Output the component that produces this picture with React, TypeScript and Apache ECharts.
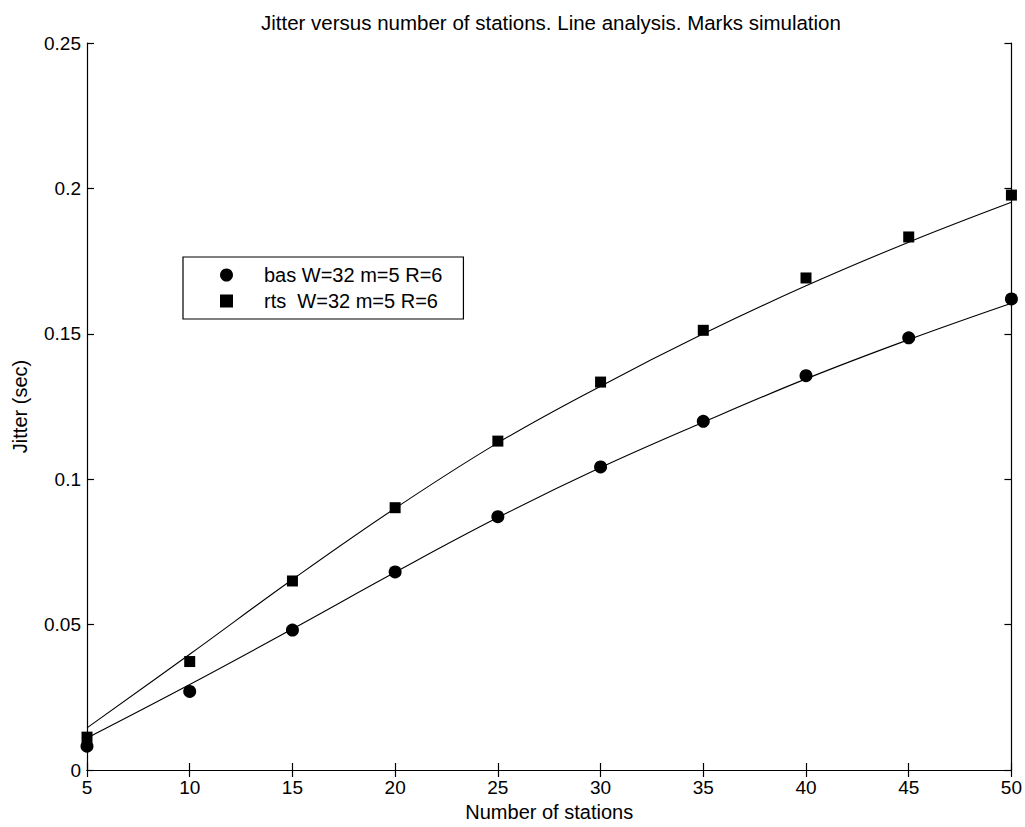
import React, { useEffect, useRef } from "react";
import * as echarts from "echarts";

const stations = [5, 10, 15, 20, 25, 30, 35, 40, 45, 50];
const xTicks = [5, 10, 15, 20, 25, 30, 35, 40, 45, 50];
const yTicks = [0, 0.05, 0.1, 0.15, 0.2, 0.25];

// Analysis (lines)
const basAnalysis = [0.011, 0.0294, 0.0485, 0.068, 0.0868, 0.104, 0.1196, 0.1345, 0.148, 0.1605];
const rtsAnalysis = [0.0145, 0.0398, 0.0655, 0.09, 0.1125, 0.132, 0.15, 0.1665, 0.1815, 0.1952];

// Simulation (marks)
const basSimulation = [0.0082, 0.027, 0.0481, 0.0681, 0.0871, 0.1042, 0.1199, 0.1356, 0.1486, 0.162];
const rtsSimulation = [0.0113, 0.0373, 0.065, 0.0902, 0.1131, 0.1334, 0.1512, 0.1692, 0.1833, 0.1977];

const basName = "bas W=32 m=5 R=6";
const rtsName = "rts  W=32 m=5 R=6";
const titleText = "Jitter versus number of stations. Line analysis. Marks simulation";
const xName = "Number of stations";
const yName = "Jitter (sec)";

const FONT = "'Liberation Sans', Arial, Helvetica, sans-serif";

function pairs(xs: number[], ys: number[]) {
  return xs.map((x, i) => [x, ys[i]]);
}

export default function App() {
  const ref = useRef<HTMLDivElement>(null);
  useEffect(() => {
    if (!ref.current) return;
    const chart = echarts.init(ref.current, undefined, { renderer: "svg" });
    const axisCommon = {
      axisLine: { show: true, lineStyle: { color: "#000", width: 1.2 } },
      axisTick: { show: true, inside: true, length: 7, lineStyle: { color: "#000", width: 1.2 } },
      splitLine: { show: false },
    };
    chart.setOption({
      animation: false,
      backgroundColor: "#fff",
      textStyle: { fontFamily: FONT, color: "#000" },
      title: {
        text: titleText,
        left: 256,
        top: 7,
        textStyle: { fontSize: 20.5, fontWeight: "normal", color: "#000", fontFamily: FONT },
      },
      grid: { left: 87, top: 43, right: 13, bottom: 53, containLabel: false },
      legend: {
        data: [
          { name: basName, icon: "circle", itemStyle: { color: "#000", opacity: 1 } },
          { name: rtsName, icon: "rect", itemStyle: { color: "#000", opacity: 1 } },
        ],
        orient: "vertical",
        left: 183,
        top: 257,
        padding: [8, 21, 8, 37],
        itemGap: 6,
        itemWidth: 13,
        itemHeight: 13,
        borderColor: "#000",
        borderWidth: 1.2,
        backgroundColor: "#fff",
        textStyle: { fontSize: 20, color: "#000", fontFamily: FONT, padding: [0, 0, 0, 26] },
      },
      xAxis: [
        {
          type: "value",
          min: xTicks[0],
          max: xTicks[xTicks.length - 1],
          interval: 5,
          name: xName,
          nameLocation: "middle",
          nameGap: 32,
          nameTextStyle: { fontSize: 20, color: "#000", fontFamily: FONT },
          axisLabel: { fontSize: 19, color: "#000", margin: 8, fontFamily: FONT },
          ...axisCommon,
        },
        {
          type: "value",
          position: "top",
          min: xTicks[0],
          max: xTicks[xTicks.length - 1],
          interval: 5,
          axisLabel: { show: false },
          ...axisCommon,
        },
      ],
      yAxis: [
        {
          type: "value",
          min: yTicks[0],
          max: yTicks[yTicks.length - 1],
          interval: 0.05,
          name: yName,
          nameLocation: "middle",
          nameGap: 57,
          nameTextStyle: { fontSize: 20, color: "#000", fontFamily: FONT },
          axisLabel: { fontSize: 19, color: "#000", margin: 6, fontFamily: FONT },
          ...axisCommon,
        },
        {
          type: "value",
          position: "right",
          min: yTicks[0],
          max: yTicks[yTicks.length - 1],
          interval: 0.05,
          axisLabel: { show: false },
          ...axisCommon,
        },
      ],
      series: [
        {
          name: "bas analysis",
          type: "line",
          data: pairs(stations, basAnalysis),
          smooth: 0.4,
          showSymbol: false,
          lineStyle: { color: "#000", width: 1.1 },
          z: 2,
        },
        {
          name: "rts analysis",
          type: "line",
          data: pairs(stations, rtsAnalysis),
          smooth: 0.4,
          showSymbol: false,
          lineStyle: { color: "#000", width: 1.1 },
          z: 2,
        },
        {
          name: basName,
          type: "scatter",
          data: pairs(stations, basSimulation),
          symbol: "circle",
          symbolSize: 13,
          itemStyle: { color: "#000", opacity: 1 },
          clip: false,
          z: 3,
        },
        {
          name: rtsName,
          type: "scatter",
          data: pairs(stations, rtsSimulation),
          symbol: "rect",
          symbolSize: 11,
          itemStyle: { color: "#000", opacity: 1 },
          clip: false,
          z: 3,
        },
      ],
    });
    return () => chart.dispose();
  }, []);
  return (
    <div
      ref={ref}
      style={{ position: "fixed", left: 0, top: 0, width: 1025, height: 827, background: "#fff" }}
    />
  );
}
